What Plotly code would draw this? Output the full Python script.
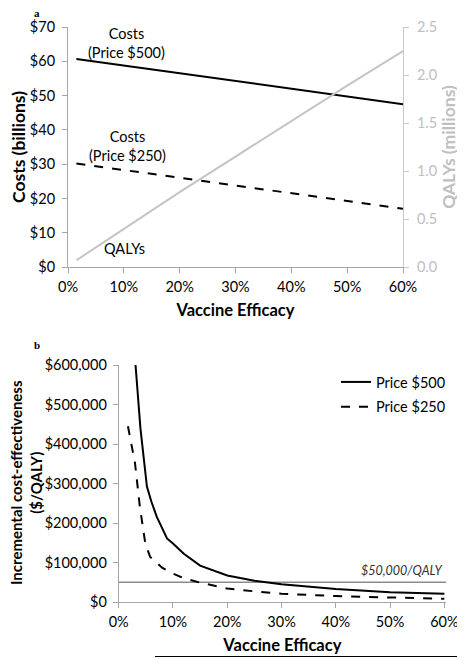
import plotly.graph_objects as go

# Page body has an 8px default margin; figure is sized/positioned to compensate.
OFF = 8
W, H = 465 - OFF, 658 - OFF
FONT = "Lato"

# ---------- Panel a data ----------
eff_a = [0.015, 0.10, 0.20, 0.30, 0.40, 0.50, 0.60]
cost_500 = [60.7, 58.8, 56.5, 54.2, 52.0, 49.8, 47.5]
cost_250 = [30.2, 28.3, 26.0, 23.8, 21.5, 19.3, 17.0]
qalys = [0.07, 0.40, 0.78, 1.15, 1.52, 1.89, 2.25]

# ---------- Panel b data ----------
eff_b500 = [0.031, 0.04, 0.052, 0.06, 0.07, 0.089, 0.10, 0.12, 0.15, 0.20, 0.25, 0.30, 0.40, 0.50, 0.60]
icer_500 = [600000, 440000, 292000, 255000, 216000, 161000, 148000, 122000, 92000, 67000, 54000, 45000, 33000, 25000, 21000]
eff_b250 = [0.017, 0.03, 0.039, 0.049, 0.058, 0.08, 0.10, 0.12, 0.15, 0.20, 0.25, 0.30, 0.40, 0.50, 0.60]
icer_250 = [445000, 352000, 241000, 148000, 114000, 87000, 72000, 60000, 49000, 34000, 27000, 21000, 15000, 12000, 8000]
threshold_x = [0.0, 0.603]
threshold = [50000, 50000]

fig = go.Figure()

def px_x(p):
    return (p - OFF) / W

def px_y(p):
    return 1 - (p - OFF) / H

# Panel a traces
fig.add_trace(go.Scatter(x=eff_a, y=cost_500, mode="lines", line=dict(color="black", width=2),
                         xaxis="x", yaxis="y", showlegend=False))
fig.add_trace(go.Scatter(x=eff_a, y=cost_250, mode="lines", line=dict(color="black", width=2, dash="dash"),
                         xaxis="x", yaxis="y", showlegend=False))
fig.add_trace(go.Scatter(x=eff_a, y=qalys, mode="lines", line=dict(color="#c4c4c4", width=2),
                         xaxis="x", yaxis="y2", showlegend=False))

# Panel b traces
fig.add_trace(go.Scatter(x=threshold_x, y=threshold, mode="lines", line=dict(color="#8c8c8c", width=1.3),
                         xaxis="x3", yaxis="y3", showlegend=False))
fig.add_trace(go.Scatter(x=eff_b500, y=icer_500, mode="lines", line=dict(color="black", width=2),
                         xaxis="x3", yaxis="y3", name="Price $500", legendgroup="a"))
fig.add_trace(go.Scatter(x=eff_b250, y=icer_250, mode="lines", line=dict(color="black", width=2, dash="dash"),
                         xaxis="x3", yaxis="y3", name="Price $250", legendgroup="b"))

tickfont = dict(family=FONT, size=14.5, color="black")
axis_common = dict(showgrid=False, zeroline=False, showline=True, ticks="outside", ticklen=5,
                   tickwidth=1, tickfont=tickfont, automargin=False)

fig.update_layout(
    width=W, height=H,
    margin=dict(l=0, r=0, t=0, b=0, autoexpand=False),
    paper_bgcolor="white", plot_bgcolor="white",
    font=dict(family=FONT, size=14, color="black"),
    xaxis=dict(domain=[px_x(68), px_x(403)], range=[0, 0.6], tickvals=[0, .1, .2, .3, .4, .5, .6],
               tickformat=".0%", linecolor="#a6a6a6", tickcolor="#a6a6a6", anchor="y",
               ticklabelstandoff=2,
               title=dict(text="<b>Vaccine Efficacy</b>", font=dict(family=FONT, size=16.5), standoff=10),
               **axis_common),
    yaxis=dict(domain=[px_y(267), px_y(27)], range=[0, 70], dtick=10, tickprefix="$",
               linecolor="#a6a6a6", tickcolor="#a6a6a6", anchor="x", ticklabelstandoff=4,
               title=dict(text="<b>Costs (billions)</b>", font=dict(family=FONT, size=17.5), standoff=4),
               **axis_common),
    yaxis2=dict(domain=[px_y(267), px_y(27)], range=[0, 2.5], dtick=0.5, tickformat=".1f",
                overlaying="y", side="right", anchor="x", automargin=False, ticklabelstandoff=5,
                showgrid=False, zeroline=False, showline=True, ticks="outside", ticklen=5,
                linecolor="#c8c8c8", tickcolor="#c8c8c8",
                tickfont=dict(family=FONT, size=14.5, color="#c0c0c0"),
                title=dict(text="<b>QALYs (millions)</b>", font=dict(family=FONT, size=17.5, color="#c0c0c0"),
                           standoff=6)),
    xaxis3=dict(domain=[px_x(118.7), px_x(446)], range=[0, 0.603], tickvals=[0, .1, .2, .3, .4, .5, .6],
                tickformat=".0%", linecolor="#a6a6a6", tickcolor="#a6a6a6", anchor="y3",
                ticklabelstandoff=2,
                title=dict(text="<b>Vaccine Efficacy</b>", font=dict(family=FONT, size=16.5), standoff=10),
                **axis_common),
    yaxis3=dict(domain=[px_y(602), px_y(365)], range=[0, 600000], dtick=100000, tickprefix="$",
                tickformat=",d", linecolor="#a6a6a6", tickcolor="#a6a6a6", anchor="x3",
                ticklabelstandoff=3,
                **axis_common),
    legend=dict(x=px_x(336), y=px_y(366), xanchor="left", yanchor="top", bgcolor="rgba(0,0,0,0)",
                font=dict(family=FONT, size=14.5), tracegroupgap=3, traceorder="grouped",
                itemwidth=30),
)

def txt(text, x, y, size=14.5, xanchor="center", **kw):
    return dict(text=text, x=px_x(x), y=px_y(y), xref="paper", yref="paper", showarrow=False,
                xanchor=xanchor, yanchor="middle", font=dict(family=kw.get("family", FONT), size=size,
                                                             color=kw.get("color", "black")),
                align="center", textangle=kw.get("angle", 0), borderpad=0)

ann = [
    txt("Costs<br>(Price $500)", 126, 43),
    txt("Costs<br>(Price $250)", 127, 146),
    txt("QALYs", 124, 248),
    txt("<i>$50,000/QALY</i>", 443, 570, size=12.5, xanchor="right", color="#333333"),
    txt("<b>Incremental cost-effectiveness<br>($/QALY)</b>", 26, 483, size=15, angle=-90),
    txt("<b>a</b>", 37, 13, size=11, family="Liberation Serif"),
    txt("<b>b</b>", 37, 345, size=11, family="Liberation Serif"),
]
fig.update_layout(annotations=ann)

fig.add_shape(type="line", xref="paper", yref="paper", x0=px_x(155), x1=1, y0=px_y(656.5), y1=px_y(656.5),
              line=dict(color="black", width=1))

fig.write_html("out.html")
